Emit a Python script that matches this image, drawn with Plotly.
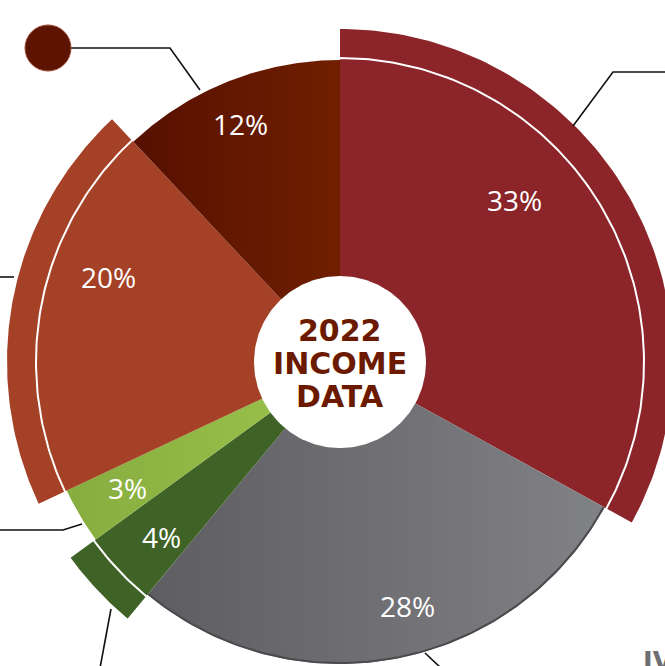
import numpy as np
import plotly.graph_objects as go

# ---------------- data ----------------
categories = ["A", "B", "C", "D", "E", "F"]
shares = [33, 28, 4, 3, 20, 12]          # percent, clockwise from 12 o'clock
extended = [True, False, True, False, True, False]
center_title = ["2022", "INCOME", "DATA"]

# ---------------- style ----------------
W, H = 665, 666
CX, CY = 340, 362            # pie centre in page pixels
R0, R1, RH = 302, 333, 86    # base radius, extended radius, hole radius
fills = [
    dict(color="#8b2529"),
    dict(grad=[[0, "#5e5d61"], [1, "#818286"]]),
    dict(color="#3f6327"),
    dict(grad=[[0, "#86ad3f"], [1, "#9cc44c"]]),
    dict(color="#a54126"),
    dict(grad=[[0, "#561000"], [1, "#701f00"]]),
]
# label placement (angle offset in degrees from slice middle, radius)
label_pos = [(-12.2, 238), (-4.6, 253), (-1.3, 250), (0.0, 247), (9.3, 247), (-1.2, 258)]


def px(xp, yp):
    return np.asarray(xp, float) - CX, CY - np.asarray(yp, float)


def arc(r, a0, a1, n=120):
    t = np.radians(np.linspace(a0, a1, n))
    return r * np.sin(t), r * np.cos(t)


fig = go.Figure()

vals = np.array(shares, float)
ends = np.cumsum(vals) / vals.sum() * 360
starts = ends - vals / vals.sum() * 360

for i, (s, a0, a1) in enumerate(zip(shares, starts, ends)):
    r = R1 if extended[i] else R0
    ax, ay = arc(r, a0, a1)
    xs = np.concatenate([[0], ax, [0]])
    ys = np.concatenate([[0], ay, [0]])
    f = fills[i]
    kw = dict(x=xs, y=ys, mode="lines", fill="toself", line=dict(width=0),
              hoverinfo="skip", showlegend=False)
    if "grad" in f:
        kw["fillgradient"] = dict(type="horizontal", colorscale=f["grad"])
        kw["fillcolor"] = f["grad"][0][1]
    else:
        kw["fillcolor"] = f["color"]
    fig.add_trace(go.Scatter(**kw))
    if i == 1:  # darker rim on grey slice
        gx, gy = arc(R0 - 1, a0, a1)
        fig.add_trace(go.Scatter(x=gx, y=gy, mode="lines",
                                 line=dict(color="#4b4b4d", width=2),
                                 hoverinfo="skip", showlegend=False))

# thin white circle at the base radius
wx, wy = arc(R0 + 2, 0, 360, 400)
fig.add_trace(go.Scatter(x=wx, y=wy, mode="lines", line=dict(color="white", width=2),
                         hoverinfo="skip", showlegend=False))

# centre hole
hx, hy = arc(RH, 0, 360, 200)
fig.add_trace(go.Scatter(x=hx, y=hy, mode="lines", fill="toself", fillcolor="white",
                         line=dict(width=0), hoverinfo="skip", showlegend=False))

# percentage labels
for i, (s, a0, a1) in enumerate(zip(shares, starts, ends)):
    off, rr = label_pos[i]
    t = np.radians((a0 + a1) / 2 + off)
    fig.add_annotation(x=rr * np.sin(t), y=rr * np.cos(t), text=f"{s}%", showarrow=False,
                       font=dict(family="Open Sans", size=28, color="white"))

# centre title
for k, line in enumerate(center_title):
    fig.add_annotation(x=0, y=32 - 33 * k, text=line, showarrow=False,
                       font=dict(family="DejaVu Sans", size=30, color="#6b1a00", weight="bold"))

# leader lines (page pixel polylines)
leaders = [
    [(70, 48), (170, 48), (200, 90)],
    [(573, 126), (613, 72), (666, 72)],
    [(-2, 277), (14, 277)],
    [(-2, 530), (63, 530), (82, 524)],
    [(111, 609), (100, 668)],
    [(425, 653), (441, 668)],
]
for pts in leaders:
    lx, ly = px([p[0] for p in pts], [p[1] for p in pts])
    fig.add_trace(go.Scatter(x=lx, y=ly, mode="lines", line=dict(color="#111111", width=1.6),
                             hoverinfo="skip", showlegend=False))

# legend dot
dx, dy = px([48], [48])
fig.add_trace(go.Scatter(x=dx, y=dy, mode="markers",
                         marker=dict(size=46, color="#5c1300", line=dict(color="#9a4a3a", width=1)),
                         hoverinfo="skip", showlegend=False))

# cut-off heading text bottom right
fig.add_annotation(xref="paper", yref="paper", x=641 / W, y=1 - 645 / H, text="IV",
                   showarrow=False, xanchor="left", yanchor="top",
                   font=dict(family="DejaVu Sans", size=26, color="#6d6e71", weight="bold"))

fig.update_layout(
    width=W, height=H, margin=dict(l=0, r=0, t=0, b=0),
    paper_bgcolor="white", plot_bgcolor="white",
    xaxis=dict(range=[-CX, W - CX], visible=False, fixedrange=True),
    yaxis=dict(range=[CY - H, CY], visible=False, fixedrange=True),
)

fig.write_html("out.html", config={"displayModeBar": False})
